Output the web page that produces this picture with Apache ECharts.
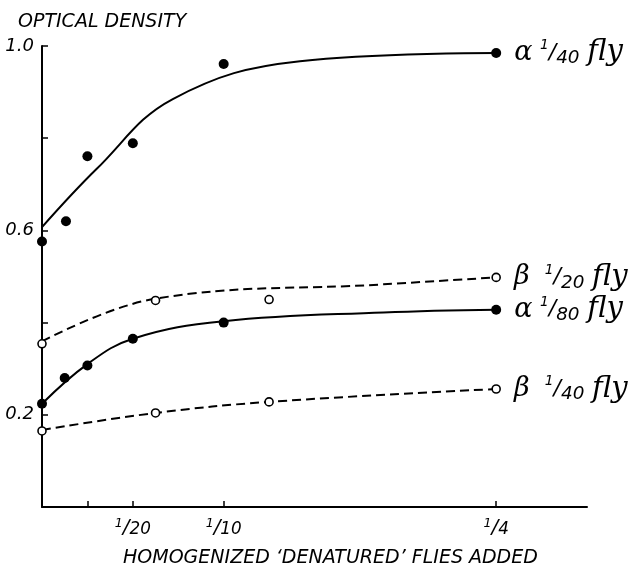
<!DOCTYPE html>
<html>
<head>
<meta charset="utf-8">
<script src="https://cdn.jsdelivr.net/npm/echarts@6/dist/echarts.min.js"></script>
<style>html,body{margin:0;padding:0;background:#fff;}#c{width:634px;height:570px;}</style>
</head>
<body>
<div id="c"></div>
<script>
// ---- data ----
const xTickValues = [0.025, 0.05, 0.1, 0.25];
const xLabelValues = [0.05, 0.1, 0.25];
const xLabelDenoms = ['20', '10', '4'];
const yTickValues = [0.2, 0.4, 0.6, 0.8, 1.0];
const yLabelValues = [0.2, 0.6, 1.0];

const alpha40X = [0, 0.0132, 0.025, 0.05, 0.1, 0.25];
const alpha40Y = [0.576, 0.62, 0.761, 0.789, 0.961, 0.985];
const alpha40CurveX = [0, 0.030, 0.072, 0.142, 0.25];
const alpha40CurveY = [0.607, 0.733, 0.885, 0.967, 0.985];

const beta20X = [0, 0.0625, 0.125, 0.25];
const beta20Y = [0.354, 0.448, 0.45, 0.498];
const beta20CurveX = [0, 0.0625, 0.188, 0.25];
const beta20CurveY = [0.359, 0.452, 0.483, 0.498];

const alpha80X = [0, 0.0125, 0.025, 0.05, 0.1, 0.25];
const alpha80Y = [0.224, 0.28, 0.307, 0.365, 0.40, 0.428];
const alpha80CurveX = [0, 0.025, 0.05, 0.1, 0.188, 0.25];
const alpha80CurveY = [0.224, 0.31, 0.365, 0.403, 0.422, 0.428];

const beta40X = [0, 0.0625, 0.125, 0.25];
const beta40Y = [0.165, 0.204, 0.228, 0.256];
const beta40CurveX = [0, 0.0625, 0.125, 0.25];
const beta40CurveY = [0.167, 0.204, 0.228, 0.256];

const seriesLabels = [
  {greek: 'α', gap: '  ', denom: '40'},
  {greek: 'β', gap: '    ', denom: '20'},
  {greek: 'α', gap: '  ', denom: '80'},
  {greek: 'β', gap: '    ', denom: '40'}
];
const yTitle = 'OPTICAL DENSITY';
const xTitle = 'HOMOGENIZED ‘DENATURED’ FLIES ADDED';

// ---- chart ----
const FONT = "'DejaVu Sans', sans-serif";
const INK = '#000';
const zip = (xs, ys) => xs.map((x, i) => [x, ys[i]]);
const near = (a, list) => list.findIndex(v => Math.abs(v - a) < 1e-6);

function rich(scale) {
  return {
    n: {fontSize: 12 * scale, fontStyle: 'italic', fontFamily: FONT, color: INK, verticalAlign: 'top', padding: [0, 0, 7 * scale, 0]},
    s: {fontSize: 19 * scale, fontStyle: 'italic', fontFamily: FONT, color: INK},
    d: {fontSize: 16 * scale, fontStyle: 'italic', fontFamily: FONT, color: INK, verticalAlign: 'bottom', padding: [4 * scale, 0, 0, 0]},
    g: {fontSize: 27, fontStyle: 'italic', fontFamily: "'DejaVu Serif', serif", color: INK},
    sp: {fontSize: 12, fontFamily: FONT, color: INK},
    f: {fontSize: 29, fontStyle: 'italic', fontFamily: "'DejaVu Serif', serif", color: INK}
  };
}

function curve(xs, ys, dashed) {
  return {
    type: 'line', data: zip(xs, ys), smooth: 0.4, showSymbol: false, silent: true,
    lineStyle: {color: INK, width: 2, type: dashed ? [9, 5] : 'solid'}, z: 2
  };
}
function points(xs, ys, filled, lab) {
  const data = zip(xs, ys).map((p, i) => {
    const o = {value: p};
    if (i === xs.length - 1) {
      o.label = {
        show: true, position: 'right', distance: 13, color: INK, opacity: 1,
        formatter: '{g|' + lab.greek + '}{sp|' + lab.gap + '}{n|1}{s|/}{d|' + lab.denom + '}{sp|  }{f|fly}',
        rich: rich(1.15)
      };
    }
    return o;
  });
  return {
    type: 'scatter', data, symbol: 'circle', symbolSize: filled ? 10 : 8, z: 5,
    itemStyle: filled ? {color: INK, opacity: 1} : {color: '#fff', borderColor: INK, borderWidth: 1.6, opacity: 1}
  };
}

const chart = echarts.init(document.getElementById('c'), null, {renderer: 'canvas'});
chart.setOption({
  backgroundColor: '#fff',
  animation: false,
  title: [
    {text: yTitle, left: 13, top: 8, textStyle: {fontFamily: FONT, fontStyle: 'italic', fontWeight: 'normal', fontSize: 19, color: INK}},
    {text: xTitle, left: 118, top: 544, textStyle: {fontFamily: FONT, fontStyle: 'italic', fontWeight: 'normal', fontSize: 19, color: INK}}
  ],
  grid: {left: 42, right: 47, top: 46, bottom: 63, containLabel: false},
  xAxis: {
    type: 'value', min: 0, max: 0.3,
    axisLine: {lineStyle: {color: INK, width: 2}},
    axisTick: {show: true, inside: true, length: 6, customValues: xTickValues, lineStyle: {color: INK, width: 1.5}},
    axisLabel: {
      customValues: xLabelValues, margin: 10,
      formatter: v => { const i = near(v, xLabelValues); return i < 0 ? '' : '{n|1}{s|/}{d|' + xLabelDenoms[i] + '}'; },
      rich: rich(1.05)
    },
    splitLine: {show: false}
  },
  yAxis: {
    type: 'value', min: 0, max: 1.0,
    axisLine: {show: true, lineStyle: {color: INK, width: 2}},
    axisTick: {show: true, inside: true, length: 6, customValues: yTickValues, lineStyle: {color: INK, width: 1.5}},
    axisLabel: {
      customValues: yLabelValues, margin: 8,
      formatter: v => near(v, yLabelValues) < 0 ? '' : v.toFixed(1),
      fontFamily: FONT, fontStyle: 'italic', fontSize: 18, color: INK
    },
    splitLine: {show: false}
  },
  series: [
    curve(alpha40CurveX, alpha40CurveY, false),
    curve(beta20CurveX, beta20CurveY, true),
    curve(alpha80CurveX, alpha80CurveY, false),
    curve(beta40CurveX, beta40CurveY, true),
    points(alpha40X, alpha40Y, true, seriesLabels[0]),
    points(beta20X, beta20Y, false, seriesLabels[1]),
    points(alpha80X, alpha80Y, true, seriesLabels[2]),
    points(beta40X, beta40Y, false, seriesLabels[3])
  ]
});
</script>
</body>
</html>
